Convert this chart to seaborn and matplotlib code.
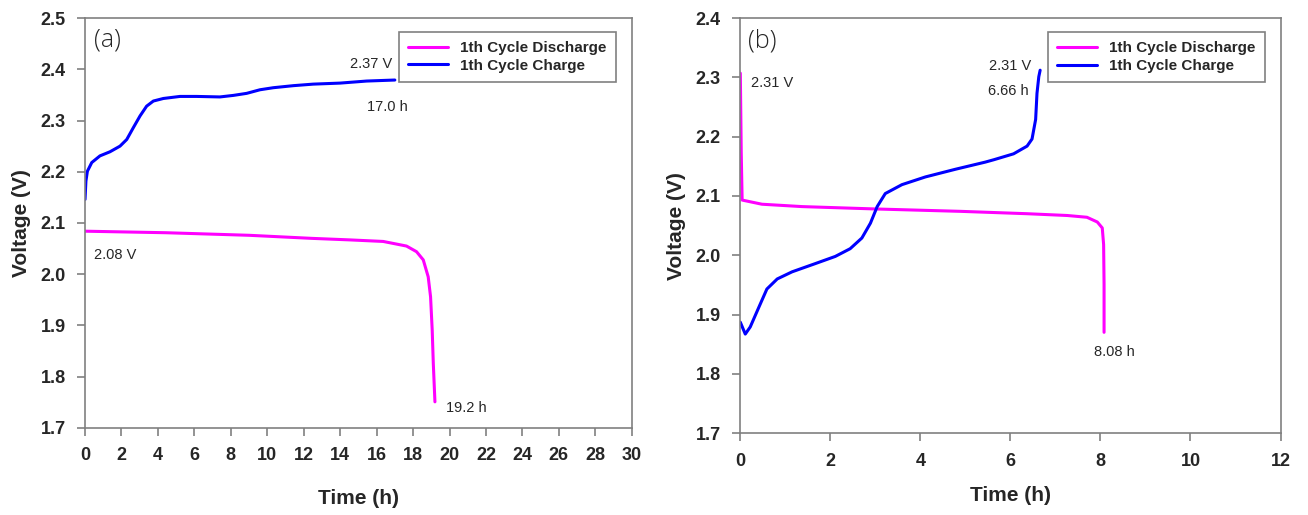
import matplotlib
matplotlib.use("Agg")
import matplotlib.pyplot as plt
import seaborn as sns
import pandas as pd

# ---- Panel (a) data ----
a_dis_t = [0.0, 4.45, 9.0, 12.45, 14.54, 16.36, 17.64, 18.19, 18.56, 18.83, 18.96, 19.05, 19.11, 19.2]
a_dis_v = [2.084, 2.081, 2.076, 2.070, 2.067, 2.064, 2.055, 2.044, 2.028, 1.995, 1.956, 1.891, 1.826, 1.751]
a_chg_t = [0.0, 0.05, 0.13, 0.37, 0.82, 1.37, 1.92, 2.29, 2.65, 3.02, 3.38, 3.75, 4.30, 5.21, 6.12,
           7.40, 8.14, 8.87, 9.6, 10.33, 11.43, 12.52, 13.99, 15.45, 17.0]
a_chg_v = [2.146, 2.182, 2.201, 2.218, 2.231, 2.239, 2.250, 2.263, 2.286, 2.309, 2.328, 2.338, 2.343,
           2.347, 2.347, 2.346, 2.349, 2.353, 2.360, 2.364, 2.368, 2.371, 2.373, 2.377, 2.379]

# ---- Panel (b) data ----
b_dis_t = [0.0, 0.01, 0.02, 0.04, 0.48, 1.37, 3.0, 4.89, 6.37, 7.26, 7.70, 7.93, 8.04, 8.07, 8.08, 8.08]
b_dis_v = [2.307, 2.24, 2.173, 2.093, 2.086, 2.082, 2.078, 2.074, 2.070, 2.067, 2.064, 2.056, 2.046,
           2.018, 1.951, 1.870]
b_chg_t = [0.0, 0.11, 0.22, 0.41, 0.59, 0.82, 1.15, 1.67, 2.11, 2.44, 2.70, 2.89, 3.04, 3.22, 3.59,
           4.11, 4.78, 5.44, 5.63, 6.07, 6.37, 6.48, 6.56, 6.59, 6.63, 6.66]
b_chg_v = [1.887, 1.867, 1.879, 1.912, 1.943, 1.960, 1.972, 1.986, 1.998, 2.011, 2.029, 2.054, 2.082,
           2.104, 2.119, 2.132, 2.145, 2.157, 2.161, 2.171, 2.184, 2.196, 2.229, 2.273, 2.301, 2.312]

series_names = ["1th Cycle Discharge", "1th Cycle Charge"]
colors = {"1th Cycle Discharge": "#FF00FF", "1th Cycle Charge": "#0000FF"}

a_xticks = list(range(0, 31, 2))
a_yticks = [1.7, 1.8, 1.9, 2.0, 2.1, 2.2, 2.3, 2.4, 2.5]
b_xticks = list(range(0, 13, 2))
b_yticks = [1.7, 1.8, 1.9, 2.0, 2.1, 2.2, 2.3, 2.4]


def make_df(dt, dv, ct, cv):
    rows = []
    for t, v in zip(dt, dv):
        rows.append((series_names[0], t, v))
    for t, v in zip(ct, cv):
        rows.append((series_names[1], t, v))
    return pd.DataFrame(rows, columns=["series", "t", "V"])


sns.set_style("white")
plt.rcParams["font.family"] = ["Liberation Sans", "DejaVu Sans"]

fig = plt.figure(figsize=(13.08, 5.15), dpi=100)
ax1 = fig.add_axes([0.065, 0.169, 0.418, 0.796])
ax2 = fig.add_axes([0.566, 0.159, 0.413, 0.806])

SPINE = "#808080"


def style_axis(ax, xticks, yticks, xlim, ylim, xpad):
    ax.set_xlim(*xlim)
    ax.set_ylim(*ylim)
    ax.set_xticks(xticks)
    ax.set_yticks(yticks)
    ax.set_xticklabels([str(x) for x in xticks], fontsize=13, fontweight="bold")
    ax.set_yticklabels([f"{y:.1f}" for y in yticks], fontsize=13, fontweight="bold")
    for s in ax.spines.values():
        s.set_color(SPINE)
        s.set_linewidth(1.2)
    ax.tick_params(axis="both", direction="out", length=6, width=1.2, color=SPINE,
                   bottom=True, left=True, top=False, right=False, pad=8)
    ax.set_xlabel("Time (h)", fontsize=15, fontweight="bold", labelpad=xpad)
    ax.set_ylabel("Voltage (V)", fontsize=15, fontweight="bold", labelpad=7)
    leg = ax.legend(loc="upper right", frameon=True, fancybox=False,
                    prop={"weight": "bold", "size": 11}, handlelength=2.6,
                    borderpad=0.6, labelspacing=0.25, bbox_to_anchor=(0.985, 0.985))
    leg.get_frame().set_edgecolor("#606060")
    leg.get_frame().set_linewidth(1.2)


dfa = make_df(a_dis_t, a_dis_v, a_chg_t, a_chg_v)
sns.lineplot(data=dfa, x="t", y="V", hue="series", palette=colors, sort=False,
             estimator=None, linewidth=2.2, ax=ax1)
style_axis(ax1, a_xticks, a_yticks, (0, 30), (1.7, 2.5), 18)
ax1.text(0.5, 2.457, "(a)", fontsize=18, family=["Open Sans", "DejaVu Sans"],
         fontweight="light", va="center", ha="left")
ax1.text(15.7, 2.411, "2.37 V", fontsize=10.5, ha="center", va="center")
ax1.text(16.6, 2.327, "17.0 h", fontsize=10.5, ha="center", va="center")
ax1.text(1.67, 2.038, "2.08 V", fontsize=10.5, ha="center", va="center")
ax1.text(20.9, 1.738, "19.2 h", fontsize=10.5, ha="center", va="center")

dfb = make_df(b_dis_t, b_dis_v, b_chg_t, b_chg_v)
sns.lineplot(data=dfb, x="t", y="V", hue="series", palette=colors, sort=False,
             estimator=None, linewidth=2.2, ax=ax2)
style_axis(ax2, b_xticks, b_yticks, (0, 12), (1.7, 2.4), 12)
ax2.text(0.18, 2.362, "(b)", fontsize=18, family=["Open Sans", "DejaVu Sans"],
         fontweight="light", va="center", ha="left")
ax2.text(0.70, 2.290, "2.31 V", fontsize=10.5, ha="center", va="center")
ax2.text(6.0, 2.319, "2.31 V", fontsize=10.5, ha="center", va="center")
ax2.text(5.96, 2.277, "6.66 h", fontsize=10.5, ha="center", va="center")
ax2.text(8.30, 1.836, "8.08 h", fontsize=10.5, ha="center", va="center")

fig.savefig("out.png", dpi=100, facecolor="white")
